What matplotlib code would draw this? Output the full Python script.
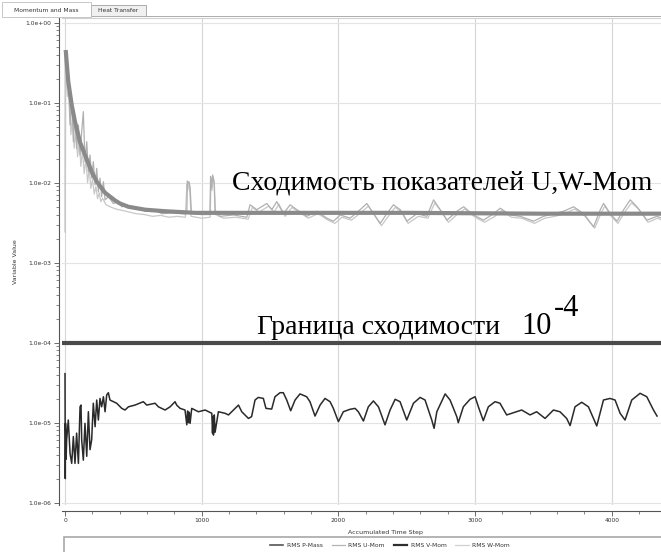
import numpy as np
import matplotlib.pyplot as plt
from matplotlib.lines import Line2D
from matplotlib.patches import Rectangle
from matplotlib.ticker import FixedLocator, LogLocator, MultipleLocator, NullFormatter

# ---- data ----
steps_v = [0, 2, 4, 8, 12, 24, 37, 49, 61, 73,
           85, 98, 110, 117, 122, 134, 146, 159, 171, 183,
           195, 207, 220, 232, 244, 256, 268, 281, 293, 305,
           317, 329, 354, 378, 415, 439, 464, 512, 573, 598,
           659, 683, 732, 769, 805, 817, 842, 878, 891, 897,
           903, 909, 915, 927, 976, 1025, 1074, 1079, 1083, 1086,
           1092, 1098, 1122, 1171, 1196, 1244, 1269, 1293, 1342, 1365,
           1390, 1414, 1451, 1470, 1512, 1536, 1573, 1597, 1622, 1651,
           1683, 1719, 1768, 1792, 1829, 1866, 1902, 1939, 1963, 2000,
           2036, 2085, 2122, 2146, 2183, 2219, 2256, 2293, 2341, 2378,
           2415, 2451, 2500, 2549, 2598, 2634, 2683, 2700, 2720, 2781,
           2817, 2866, 2877, 2914, 2963, 3000, 3024, 3060, 3097, 3146,
           3182, 3231, 3280, 3341, 3402, 3450, 3512, 3573, 3621, 3670,
           3695, 3731, 3780, 3829, 3890, 3939, 3987, 4024, 4061, 4097,
           4146, 4207, 4256, 4305, 4331]
rms_v_mom = [4.1e-5, 2.0e-6, 9.8e-6, 3.5e-6, 6.1e-6, 1.08e-5, 4.1e-6, 3.1e-6, 6.7e-6, 3.1e-6,
             7.4e-6, 3.1e-6, 1.58e-5, 1.66e-5, 6.1e-6, 3.4e-6, 9.8e-6, 3.8e-6, 1.37e-5, 4.6e-6,
             6.1e-6, 1.75e-5, 8.9e-6, 1.92e-5, 1.08e-5, 2.01e-5, 1.58e-5, 2.11e-5, 1.37e-5, 2.22e-5,
             2.37e-5, 1.92e-5, 1.83e-5, 1.75e-5, 1.51e-5, 1.44e-5, 1.58e-5, 1.66e-5, 1.83e-5, 1.66e-5,
             1.75e-5, 1.58e-5, 1.44e-5, 1.58e-5, 1.83e-5, 1.66e-5, 1.51e-5, 1.44e-5, 9.4e-6, 1.40e-5,
             1.0e-5, 1.35e-5, 9.8e-6, 1.51e-5, 1.37e-5, 1.44e-5, 1.31e-5, 7.4e-6, 1.19e-5, 7.0e-6,
             1.25e-5, 7.6e-6, 1.37e-5, 1.31e-5, 1.25e-5, 1.51e-5, 1.66e-5, 1.37e-5, 1.13e-5, 1.19e-5,
             1.92e-5, 2.07e-5, 2.01e-5, 1.51e-5, 1.48e-5, 2.11e-5, 2.37e-5, 2.37e-5, 1.92e-5, 1.41e-5,
             1.92e-5, 2.29e-5, 2.11e-5, 1.83e-5, 1.21e-5, 1.66e-5, 2.01e-5, 1.83e-5, 1.51e-5, 1.03e-5,
             1.37e-5, 1.47e-5, 1.51e-5, 1.37e-5, 1.05e-5, 1.58e-5, 1.87e-5, 1.58e-5, 9.4e-6, 1.44e-5,
             1.96e-5, 1.83e-5, 1.08e-5, 1.75e-5, 2.07e-5, 1.92e-5, 1.08e-5, 8.5e-6, 1.37e-5, 2.29e-5,
             1.92e-5, 1.19e-5, 1.0e-5, 1.58e-5, 1.96e-5, 2.11e-5, 1.58e-5, 1.06e-5, 1.58e-5, 1.83e-5,
             1.75e-5, 1.25e-5, 1.33e-5, 1.44e-5, 1.25e-5, 1.37e-5, 1.13e-5, 1.44e-5, 1.37e-5, 1.13e-5,
             9.2e-6, 1.58e-5, 1.80e-5, 1.58e-5, 9.1e-6, 1.92e-5, 2.01e-5, 1.92e-5, 1.31e-5, 1.08e-5,
             1.92e-5, 2.33e-5, 2.11e-5, 1.44e-5, 1.21e-5]

steps_u = [5, 24, 37, 49, 61, 73, 85, 98, 110, 122,
           134, 146, 159, 171, 183, 195, 207, 220, 232, 244,
           256, 268, 281, 293, 317, 354, 390, 415, 451, 488,
           537, 586, 659, 708, 781, 854, 891, 895, 900, 907,
           915, 925, 990, 1060, 1065, 1072, 1080, 1090, 1098, 1134,
           1232, 1330, 1354, 1403, 1476, 1513, 1549, 1598, 1647, 1696,
           1769, 1842, 1915, 1964, 2013, 2086, 2159, 2208, 2257, 2306,
           2354, 2403, 2452, 2501, 2574, 2647, 2696, 2745, 2794, 2867,
           2916, 2989, 3062, 3135, 3184, 3257, 3330, 3428, 3501, 3574,
           3648, 3721, 3794, 3867, 3916, 3940, 3989, 4038, 4087, 4135,
           4184, 4257, 4330, 4367]
rms_u_mom = [0.395, 0.183, 0.0526, 0.114, 0.0326, 0.070, 0.0269, 0.0526, 0.0222, 0.0434,
             0.0773, 0.0183, 0.0326, 0.0137, 0.0222, 0.0114, 0.0183, 0.0094, 0.0151, 0.0077,
             0.0114, 0.0067, 0.0103, 0.0061, 0.0067, 0.0055, 0.0058, 0.0050, 0.0052, 0.0048,
             0.0049, 0.0044, 0.0045, 0.0041, 0.0042, 0.0041, 0.0041, 0.0105, 0.0098, 0.0103,
             0.0088, 0.0042, 0.0040, 0.0040, 0.0120, 0.0085, 0.0125, 0.0105, 0.0045, 0.0038,
             0.00395, 0.0037, 0.0053, 0.0046, 0.0055, 0.0046, 0.0058, 0.0041, 0.0053, 0.0046,
             0.0038, 0.0044, 0.0036, 0.0033, 0.00395, 0.0036, 0.0046, 0.0055, 0.0041, 0.0031,
             0.0041, 0.0053, 0.0046, 0.0033, 0.0041, 0.0038, 0.0061, 0.0046, 0.0034, 0.0044,
             0.0050, 0.00395, 0.0034, 0.0041, 0.0048, 0.00395, 0.0038, 0.0033, 0.0038, 0.0041,
             0.0044, 0.0050, 0.0041, 0.0028, 0.0046, 0.0055, 0.0041, 0.0033, 0.0046, 0.0061,
             0.0050, 0.0034, 0.0038, 0.0036]

steps_w = [0, 2, 5, 18, 30, 43, 55, 67, 79, 92,
           104, 116, 128, 140, 153, 165, 177, 189, 201, 214,
           226, 238, 250, 262, 275, 300, 330, 370, 420, 470,
           520, 580, 640, 700, 760, 820, 880, 892, 898, 905,
           912, 922, 1000, 1062, 1068, 1075, 1083, 1093, 1100, 1160,
           1250, 1340, 1370, 1420, 1490, 1530, 1565, 1610, 1660, 1710,
           1780, 1850, 1925, 1975, 2025, 2095, 2170, 2220, 2270, 2315,
           2365, 2415, 2465, 2510, 2585, 2655, 2705, 2755, 2805, 2875,
           2925, 3000, 3070, 3145, 3195, 3265, 3340, 3435, 3510, 3585,
           3655, 3730, 3805, 3875, 3925, 3950, 3995, 4045, 4095, 4145,
           4195, 4265, 4335, 4367]
rms_w_mom = [0.42, 0.0024, 0.35, 0.12, 0.15, 0.040, 0.070, 0.027, 0.045, 0.021,
             0.035, 0.016, 0.026, 0.013, 0.020, 0.010, 0.015, 0.0085, 0.011, 0.0072,
             0.0090, 0.0063, 0.0075, 0.0058, 0.0064, 0.0053, 0.0050, 0.0047, 0.0045, 0.0043,
             0.0041, 0.0040, 0.0038, 0.0039, 0.0037, 0.0038, 0.0037, 0.0095, 0.0080, 0.0100,
             0.0085, 0.0038, 0.0036, 0.0037, 0.0110, 0.0080, 0.0118, 0.0095, 0.0040, 0.0036,
             0.0037, 0.0035, 0.0049, 0.0043, 0.0051, 0.0043, 0.0054, 0.0038, 0.0049, 0.0043,
             0.0036, 0.0041, 0.0034, 0.0031, 0.0037, 0.0034, 0.0043, 0.0051, 0.0038, 0.0029,
             0.0038, 0.0049, 0.0043, 0.0031, 0.0038, 0.0036, 0.0056, 0.0043, 0.0032, 0.0041,
             0.0047, 0.0037, 0.0032, 0.0038, 0.0045, 0.0037, 0.0036, 0.0031, 0.0036, 0.0038,
             0.0041, 0.0047, 0.0038, 0.0027, 0.0043, 0.0051, 0.0038, 0.0031, 0.0043, 0.0056,
             0.0047, 0.0032, 0.0036, 0.0034]

# smooth highlight drawn over U,W-Mom
steps_trend = [5, 24, 49, 73, 110, 146, 195, 232, 293, 366,
               402, 464, 586, 732, 952, 1500, 2500, 3500, 4400]
trend_uw = [0.456, 0.183, 0.094, 0.058, 0.032, 0.0223, 0.0137, 0.0103, 0.0075, 0.0060,
            0.0055, 0.0050, 0.0046, 0.0044, 0.0042, 0.0042, 0.0042, 0.0041, 0.0041]

limite = 1e-4

y_ticks = [1e0, 1e-1, 1e-2, 1e-3, 1e-4, 1e-5, 1e-6]
y_labels = ["1.0e+00", "1.0e-01", "1.0e-02", "1.0e-03", "1.0e-04", "1.0e-05", "1.0e-06"]
x_ticks = [0, 1000, 2000, 3000, 4000]
series_names = ["RMS P-Mass", "RMS U-Mom", "RMS V-Mom", "RMS W-Mom"]

W, H = 661, 552


def fx(px):
    return px / W


def fy(py):
    return 1 - py / H


fig = plt.figure(figsize=(W / 100, H / 100), dpi=100)
ax = fig.add_axes([fx(62), fy(505), fx(661 - 62), (505 - 18) / H])

ax.plot(steps_w, rms_w_mom, color="#c8c8c8", lw=0.9, zorder=2)
ax.plot(steps_u, rms_u_mom, color="#b0b0b0", lw=0.9, zorder=3)
ax.plot(steps_trend, trend_uw, color="#8a8a8a", lw=3.0, zorder=4, solid_capstyle="butt")
ax.plot(steps_v, rms_v_mom, color="#2a2a2a", lw=1.1, zorder=5)
ax.axhline(limite, color="#4a4a4a", lw=3.0, zorder=6)

ax.set_yscale("log")
ax.set_ylim(10 ** -6.029, 10 ** 0.059)
ax.set_xlim(-22, 4360)

ax.yaxis.set_major_locator(FixedLocator(y_ticks))
ax.set_yticklabels(y_labels)
ax.yaxis.set_minor_locator(LogLocator(base=10, subs=np.arange(2, 10)))
ax.yaxis.set_minor_formatter(NullFormatter())
ax.xaxis.set_major_locator(FixedLocator(x_ticks))
ax.xaxis.set_minor_locator(MultipleLocator(200))

ax.grid(True, which="major", axis="y", color="#e4e4e4", lw=0.8)
ax.grid(True, which="major", axis="x", color="#d6d6d6", lw=0.8)
ax.set_axisbelow(True)

ax.spines["right"].set_visible(False)
ax.spines["top"].set_color("#d0d0d0")
ax.spines["left"].set_position(("outward", 2))
ax.spines["left"].set_color("#555555")
ax.spines["bottom"].set_position(("outward", 4))
ax.spines["bottom"].set_color("#555555")

ax.tick_params(axis="both", which="major", labelsize=4.3, colors="#555555",
               labelcolor="#333333", length=3.5, width=0.6, pad=2)
ax.tick_params(axis="both", which="minor", colors="#555555", length=2, width=0.5)

ax.set_ylabel("Variable Value", fontsize=4.5, color="#333333")
ax.yaxis.set_label_coords(-(62 - 18) / 599, 0.5)
ax.set_xlabel("Accumulated Time Step", fontsize=4.5, color="#333333")
ax.xaxis.set_label_coords((385 - 62) / 599, -(530 - 505) / 487)

# annotations
serif = "Liberation Serif"
fig.text(fx(232), fy(183), "Сходимость показателей U,W-Mom", family=serif,
         fontsize=20, va="center", ha="left", color="black")
fig.text(fx(257), fy(327), "Граница сходимости", family=serif,
         fontsize=20, va="center", ha="left", color="black")
fig.text(fx(521), fy(326), "10", family=serif, fontsize=22, va="center", ha="left", color="black")
fig.text(fx(554), fy(309), "-4", family=serif, fontsize=22, va="center", ha="left", color="black")

# tab strip of the solver window
fig.add_artist(Rectangle((fx(91), fy(16)), fx(146 - 91), (16 - 5) / H, facecolor="#f0f0f0",
                         edgecolor="#a0a0a0", lw=0.6, transform=fig.transFigure))
fig.add_artist(Rectangle((fx(2), fy(17)), fx(91 - 2), (17 - 2) / H, facecolor="white",
                         edgecolor="#b0b0b0", lw=0.5, transform=fig.transFigure))
fig.add_artist(Line2D([fx(146), 1], [fy(16), fy(16)], color="#a0a0a0", lw=0.6,
                      transform=fig.transFigure))
fig.text(fx(46), fy(10), "Momentum and Mass", fontsize=4.3, ha="center", va="center", color="#333333")
fig.text(fx(118), fy(11), "Heat Transfer", fontsize=4.3, ha="center", va="center", color="#333333")

# legend box
fig.add_artist(Rectangle((fx(64), fy(560)), fx(661 - 64 + 20), (560 - 537) / H, facecolor="white",
                         edgecolor="#a8a8a8", lw=1.2, transform=fig.transFigure))
handles = [Line2D([], [], color="#555555", lw=1.2),
           Line2D([], [], color="#b4b4b4", lw=0.9),
           Line2D([], [], color="#2e2e2e", lw=1.6),
           Line2D([], [], color="#d0d0d0", lw=0.9)]
fig.legend(handles, series_names, loc="center", bbox_to_anchor=(fx(390), fy(545)), ncol=4,
           frameon=False, fontsize=4.3, handlelength=2.2, columnspacing=1.5, handletextpad=0.6,
           labelcolor="#333333")

fig.savefig("out.png", dpi=100)
